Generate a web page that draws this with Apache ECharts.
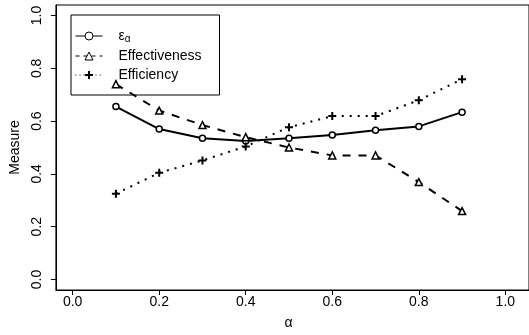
<!DOCTYPE html>
<html>
<head>
<meta charset="utf-8">
<script src="https://cdn.jsdelivr.net/npm/echarts@6/dist/echarts.min.js"></script>
<style>
  html, body { margin: 0; padding: 0; background: #fff; }
  #chart { width: 529px; height: 335px; }
</style>
</head>
<body>
<div id="chart"></div>
<script>
// values
const alphas        = [0.1, 0.2, 0.3, 0.4, 0.5, 0.6, 0.7, 0.8, 0.9];
const epsAlpha      = [0.655, 0.570, 0.535, 0.525, 0.535, 0.547, 0.565, 0.580, 0.634];
const effectiveness = [0.740, 0.640, 0.585, 0.539, 0.500, 0.470, 0.470, 0.369, 0.259];
const efficiency    = [0.325, 0.404, 0.451, 0.504, 0.577, 0.619, 0.619, 0.679, 0.759];
const xTicks = [0, 0.2, 0.4, 0.6, 0.8, 1.0];
const yTicks = [0, 0.2, 0.4, 0.6, 0.8, 1.0];

const FONT = '"Liberation Sans", Arial, Helvetica, sans-serif';
const pairs = ys => alphas.map((a, i) => [a, ys[i]]);
const plusPath = 'path://M3,0H5V3H8V5H5V8H3V5H0V3H3Z';

const chart = echarts.init(document.getElementById('chart'), null, { renderer: 'canvas' });

chart.setOption({
  backgroundColor: '#fff',
  animation: false,
  textStyle: { fontFamily: FONT, color: '#000' },
  grid: {
    left: 52, top: 5, width: 480, height: 288,
    show: true, borderColor: '#000', borderWidth: 1, backgroundColor: 'transparent'
  },
  xAxis: {
    type: 'value',
    min: -17 / 439, max: 463 / 439,
    name: 'α', nameLocation: 'middle', nameGap: 26,
    nameTextStyle: { fontFamily: FONT, fontSize: 14, color: '#000', padding: [0, 8, 0, 0] },
    splitLine: { show: false },
    axisLine: { show: true, onZero: false, lineStyle: { color: '#000', width: 1 } },
    axisTick: { show: true, inside: false, length: 5, customValues: xTicks, lineStyle: { color: '#000' } },
    axisLabel: {
      customValues: xTicks, margin: 5, fontSize: 14, color: '#000', fontFamily: FONT,
      formatter: v => v.toFixed(1)
    }
  },
  yAxis: {
    type: 'value',
    min: -0.04, max: 1.04,
    name: 'Measure', nameLocation: 'middle', nameGap: 33,
    nameTextStyle: { fontFamily: FONT, fontSize: 14, color: '#000' },
    splitLine: { show: false },
    axisLine: { show: true, onZero: false, lineStyle: { color: '#000', width: 1 } },
    axisTick: { show: true, inside: false, length: 5, customValues: yTicks, lineStyle: { color: '#000' } },
    axisLabel: {
      customValues: yTicks, margin: 12, rotate: 90, fontSize: 14, color: '#000', fontFamily: FONT,
      formatter: v => v.toFixed(1)
    }
  },
  legend: {
    left: 71, top: 15,
    orient: 'vertical',
    padding: [14, 18, 13, 4],
    itemWidth: 27, itemHeight: 10, itemGap: 5,
    borderColor: '#000', borderWidth: 1, borderRadius: 0,
    backgroundColor: 'transparent',
    textStyle: {
      fontFamily: FONT, fontSize: 14, color: '#000', lineHeight: 14, padding: [0, 0, 0, 11],
      rich: {
        sub: { fontFamily: FONT, fontSize: 10, color: '#000', padding: [6, 0, 0, 0] }
      }
    },
    formatter: name => name === 'eps' ? 'ε{sub|α}' : name,
    data: [
      { name: 'eps', itemStyle: { borderWidth: 1 }, lineStyle: { width: 1 } },
      { name: 'Effectiveness', itemStyle: { borderWidth: 1 }, lineStyle: { width: 1, type: [4, 4] } },
      { name: 'Efficiency', lineStyle: { width: 1, type: [1, 3] } }
    ]
  },
  series: [
    {
      name: 'eps', type: 'line', data: pairs(epsAlpha),
      symbol: 'circle', symbolSize: 6,
      lineStyle: { color: '#000', width: 2, type: 'solid' },
      itemStyle: { color: '#fff', borderColor: '#000', borderWidth: 1.5 }
    },
    {
      name: 'Effectiveness', type: 'line', data: pairs(effectiveness),
      symbol: 'triangle', symbolSize: 7,
      lineStyle: { color: '#000', width: 2, type: [8, 8] },
      itemStyle: { color: '#fff', borderColor: '#000', borderWidth: 1.5 }
    },
    {
      name: 'Efficiency', type: 'line', data: pairs(efficiency),
      symbol: plusPath, symbolSize: 8,
      lineStyle: { color: '#000', width: 2, type: [2, 6] },
      itemStyle: { color: '#000', borderWidth: 0 }
    }
  ]
});
</script>
</body>
</html>
